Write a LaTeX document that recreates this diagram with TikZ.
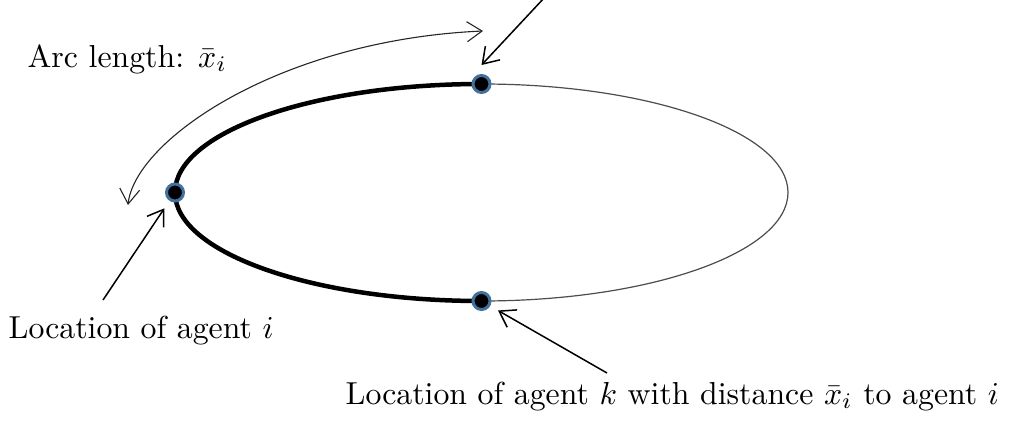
\documentclass[tikz,border=0pt]{standalone}
\usetikzlibrary{arrows.meta}
\definecolor{dotrim}{HTML}{41719C}
\begin{document}
\begin{tikzpicture}[x=1pt,y=-1pt,
  agent/.style={circle, fill=black, draw=dotrim, line width=3pt,
                minimum size=17pt, inner sep=0pt},
  barb/.tip={Straight Barb[length=15pt,width=20pt]},
  pointer/.style={line width=1.5pt, -{barb}},
  label/.style={anchor=base west, inner sep=0pt, scale=3.18}]
\useasboundingbox (0,0) rectangle (1017,423);

% the ring: thin full ellipse, thick left half
\coordinate (c) at (481.5,192.5);
\draw[line width=1.2pt, black!70] (c) ellipse [x radius=306.5, y radius=108.5];
\draw[line width=4.5pt] (481.5,84) arc[start angle=270, end angle=90,
      x radius=306.5, y radius=108.5];

% agents on the ring
\node[agent] (top) at (481.5,84) {};
\node[agent] (left) at (175,192.5) {};
\node[agent] (bot) at (481.5,301) {};

% texts
\node[label] (arc) at (27,67) {Arc length: $\bar{x}_i$};
\node[label] (loci) at (8,338) {Location of agent $i$};
\node[label] (lock) at (345,404) {Location of agent $k$ with distance $\bar{x}_i$ to agent $i$};

% pointers
\coordinate (ptop) at (545,-3);
\coordinate (pleft) at (103,300);
\coordinate (pbot) at (607,373);
\draw[pointer] (ptop) -- ([yshift=19pt]top.center);
\draw[pointer, shorten >=9pt] (pleft) -- (left);
\draw[pointer, shorten >=9pt] (pbot) -- (bot);

% arc-length double arrow
\coordinate (arcA) at (128,205);
\coordinate (arcB) at (483,31);
\draw[line width=1.1pt, black!85, {barb}-{barb}]
  (arcA) .. controls (135,140) and (280,40) .. (arcB);
\end{tikzpicture}
\end{document}
